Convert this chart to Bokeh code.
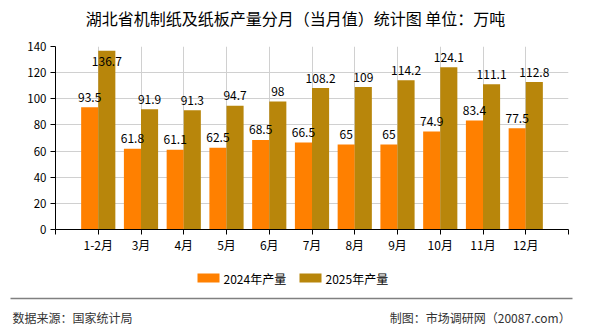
from bokeh.plotting import figure
from bokeh.layouts import column, row
from bokeh.models import ColumnDataSource, FixedTicker, Range1d
from bokeh.embed import file_html
from bokeh.resources import INLINE
from bokeh.core.properties import value
import numpy as np

# Monthly output of machine-made paper and paperboard in Hubei (10k tonnes)
months = ["1-2月", "3月", "4月", "5月", "6月", "7月", "8月", "9月", "10月", "11月", "12月"]
output_2024 = [93.5, 61.8, 61.1, 62.5, 68.5, 66.5, 65, 65, 74.9, 83.4, 77.5]
output_2025 = [136.7, 91.9, 91.3, 94.7, 98, 108.2, 109, 114.2, 124.1, 111.1, 112.8]
y_ticks = [0, 20, 40, 60, 80, 100, 120, 140]
series_names = ["2024年产量", "2025年产量"]

TITLE = "湖北省机制纸及纸板产量分月（当月值）统计图 单位：万吨"
SOURCE = "数据来源：国家统计局"
CREDIT = "制图：市场调研网（20087.com）"

FONT = "Noto Sans CJK SC"
C24 = "#ff8000"
C25 = "#b8860b"
BAR_W = 0.4
W = 590


def blank_panel(height, top):
    """A figure whose frame fills the canvas, in pixel coordinates (y downward)."""
    f = figure(width=W, height=height, output_backend="svg", toolbar_location=None,
               x_range=Range1d(0, W), y_range=Range1d(top + height, top),
               min_border=0, outline_line_color=None,
               x_axis_location=None, y_axis_location=None,
               background_fill_color="white", border_fill_color="white")
    f.xgrid.visible = False
    f.ygrid.visible = False
    return f


# ---- title strip -------------------------------------------------------
TOP_H = 36
head = blank_panel(TOP_H, 0)
head.text(x=[W / 2], y=[17], text=[TITLE], text_align="center", text_baseline="middle",
          text_font=value(FONT), text_font_size="16px", text_color="black")

# ---- bar chart ---------------------------------------------------------
idx = np.arange(len(months))
v24 = np.array(output_2024, dtype=float)
v25 = np.array(output_2025, dtype=float)


def label_y(v):
    # keep labels of the tallest bars inside the plotting area
    return np.where(v > 130, 121, v)


src = ColumnDataSource(dict(
    x24=idx - BAR_W / 2, x25=idx + BAR_W / 2,
    v24=v24, v25=v25,
    ly24=label_y(v24), ly25=label_y(v25),
    t24=[f"{v:g}" for v in v24], t25=[f"{v:g}" for v in v25],
))

CHART_H = 222
p = figure(width=W, height=CHART_H, output_backend="svg", toolbar_location=None,
           x_range=Range1d(-1, len(months)), y_range=Range1d(0, 140),
           min_border_left=55, min_border_right=22, min_border_top=10,
           min_border_bottom=29, background_fill_color="white",
           border_fill_color="white", outline_line_color=None)

p.vbar(x="x24", top="v24", width=BAR_W, source=src, fill_color=C24, line_color=None)
p.vbar(x="x25", top="v25", width=BAR_W, source=src, fill_color=C25, line_color=None)

for xcol, ycol, tcol in (("x24", "ly24", "t24"), ("x25", "ly25", "t25")):
    p.text(x=xcol, y=ycol, text=tcol, source=src, text_align="center",
           text_baseline="alphabetic", y_offset=-10, text_font=value(FONT),
           text_font_size="12px", text_color="black")

p.xaxis.ticker = FixedTicker(ticks=list(range(-1, len(months) + 1)))
overrides = {i: m for i, m in enumerate(months)}
overrides[-1] = ""
overrides[len(months)] = ""
p.xaxis.major_label_overrides = overrides
p.yaxis.ticker = FixedTicker(ticks=y_ticks)
for ax in (p.xaxis[0], p.yaxis[0]):
    ax.axis_line_color = "black"
    ax.major_tick_line_color = "black"
    ax.major_tick_in = 0
    ax.major_tick_out = 5
    ax.minor_tick_line_color = None
    ax.major_label_text_font = FONT
    ax.major_label_text_font_size = "12px"
    ax.major_label_text_color = "black"
p.xaxis.major_label_standoff = 1
p.yaxis.major_label_standoff = 4
p.yaxis.major_label_text_font_size = "11.5px"

p.xgrid.grid_line_color = "#d0d0d0"
p.ygrid.grid_line_color = "#d0d0d0"

# ---- legend and footer strip -------------------------------------------
FOOT_TOP = TOP_H + CHART_H
foot = blank_panel(330 - FOOT_TOP, FOOT_TOP)
foot.quad(left=[197, 299], right=[219, 321], top=[273, 273], bottom=[282, 282],
          fill_color=[C24, C25], line_color=None)
foot.text(x=[223, 325], y=[277.5, 277.5], text=series_names, text_align="left",
          text_baseline="middle", text_font=value(FONT), text_font_size="12px",
          text_color="black")
foot.line(x=[10, 572], y=[298, 298], line_color="#808080", line_width=1.5)
foot.text(x=[12], y=[317], text=[SOURCE], text_align="left", text_baseline="middle",
          text_font=value(FONT), text_font_size="12px", text_color="#333333")
foot.text(x=[570], y=[317], text=[CREDIT], text_align="right", text_baseline="middle",
          text_font=value(FONT), text_font_size="12px", text_color="#333333")

# each strip sits in its own row so the frames are laid out independently
layout = column(row(head), row(p), row(foot), spacing=0)
open("out.html", "w").write(file_html(layout, INLINE))
